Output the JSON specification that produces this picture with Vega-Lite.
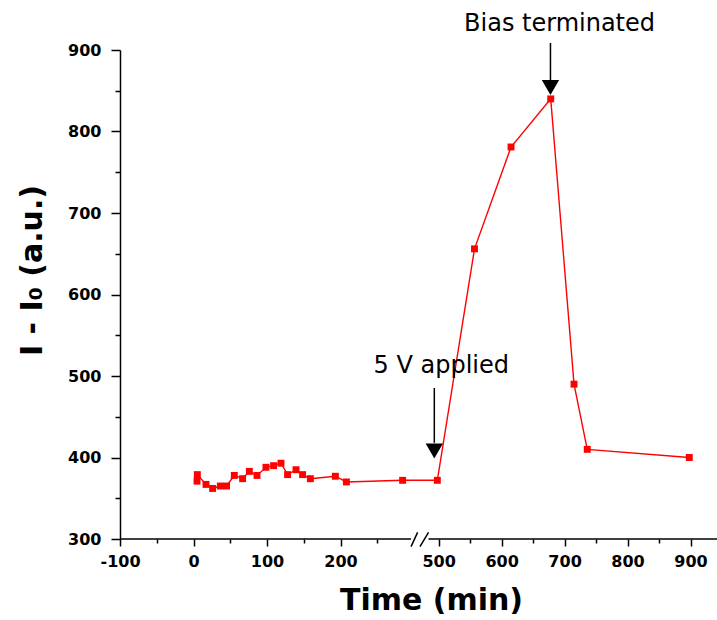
{
  "$schema": "https://vega.github.io/schema/vega-lite/v6.json",
  "width": 597,
  "height": 489,
  "autosize": {"type": "none"},
  "padding": {"left": 120, "top": 50, "right": 0, "bottom": 81},
  "background": "white",
  "config": {"view": {"stroke": null}},
  "datasets": {
    "series": [
      {"t": 4.8, "v": 371}, {"t": 5.2, "v": 379}, {"t": 17, "v": 367}, {"t": 26, "v": 362},
      {"t": 36.5, "v": 365}, {"t": 45, "v": 365}, {"t": 55.5, "v": 378}, {"t": 66.8, "v": 374},
      {"t": 76, "v": 383}, {"t": 86.4, "v": 378}, {"t": 98.6, "v": 388}, {"t": 109, "v": 390},
      {"t": 119, "v": 393}, {"t": 128, "v": 379}, {"t": 139.5, "v": 385}, {"t": 148.4, "v": 379},
      {"t": 159, "v": 374}, {"t": 193, "v": 377}, {"t": 208, "v": 370}, {"t": 284.5, "v": 372},
      {"t": 498, "v": 372}, {"t": 557, "v": 656}, {"t": 615, "v": 781}, {"t": 678, "v": 840},
      {"t": 715, "v": 490}, {"t": 736, "v": 410}, {"t": 898, "v": 400}
    ],
    "axisline": [
      {"t": -100, "t2": 296, "v": 300, "v2": 300},
      {"t": 484, "t2": 942, "v": 300, "v2": 300}
    ],
    "breakmarks": [
      {"t": 296, "t2": 354, "v": 290.6, "v2": 308.2},
      {"t": 390, "t2": 484, "v": 290.6, "v2": 308.2}
    ],
    "shafts": [
      {"t": 677.6, "t2": 677.6, "v": 908.6, "v2": 863},
      {"t": 493.2, "t2": 493.2, "v": 485.3, "v2": 418}
    ],
    "heads": [
      {"t": 677.6, "v": 854},
      {"t": 493.2, "v": 408}
    ],
    "notes": [
      {"t": 692, "v": 932, "label": "Bias terminated"},
      {"t": 504.3, "v": 512, "label": "5 V applied"}
    ]
  },
  "encoding": {
    "x": {
      "field": "t",
      "type": "quantitative",
      "scale": {"type": "linear", "domain": [-100, 300, 480, 942], "range": [0, 294, 306, 597], "zero": false, "nice": false},
      "axis": {
        "title": "Time (min)",
        "values": [-100, -50, 0, 50, 100, 150, 200, 250, 500, 550, 600, 650, 700, 750, 800, 850, 900],
        "labelExpr": "datum.value % 100 === 0 ? '' + datum.value : ''",
        "domain": false,
        "grid": false,
        "ticks": true,
        "tickColor": "black",
        "tickWidth": 1.5,
        "tickSize": {"condition": {"test": "datum.value % 100 !== 0", "value": 4}, "value": 7},
        "labelFont": "DejaVu Sans",
        "labelFontWeight": "bold",
        "labelFontSize": 16,
        "labelColor": "black",
        "labelPadding": 7,
        "labelFlush": false,
        "labelOverlap": false,
        "titleFont": "DejaVu Sans",
        "titleFontWeight": "bold",
        "titleFontSize": 30,
        "titleColor": "black",
        "titleX": 311,
        "titleY": 61,
        "titleAlign": "center",
        "titleBaseline": "middle"
      }
    },
    "y": {
      "field": "v",
      "type": "quantitative",
      "scale": {"domain": [300, 900], "zero": false, "nice": false},
      "axis": {
        "title": "I - I₀ (a.u.)",
        "values": [300, 350, 400, 450, 500, 550, 600, 650, 700, 750, 800, 850, 900],
        "labelExpr": "datum.value % 100 === 0 ? '' + datum.value : ''",
        "domain": true,
        "domainColor": "black",
        "domainWidth": 1.5,
        "grid": false,
        "tickColor": "black",
        "tickWidth": 1.5,
        "tickSize": {"condition": {"test": "datum.value % 100 !== 0", "value": 5}, "value": 9},
        "labelFont": "DejaVu Sans",
        "labelFontWeight": "bold",
        "labelFontSize": 16,
        "labelColor": "black",
        "labelPadding": 10,
        "labelFlush": false,
        "labelOverlap": false,
        "titleFont": "DejaVu Sans",
        "titleFontWeight": "bold",
        "titleFontSize": 30,
        "titleColor": "black",
        "titleX": -88,
        "titleY": 220,
        "titleAngle": -90,
        "titleAlign": "center",
        "titleBaseline": "middle"
      }
    }
  },
  "layer": [
    {
      "data": {"name": "axisline"},
      "mark": {"type": "rule", "color": "black", "strokeWidth": 1.5},
      "encoding": {"x2": {"field": "t2"}, "y2": {"field": "v2"}}
    },
    {
      "data": {"name": "breakmarks"},
      "mark": {"type": "rule", "color": "black", "strokeWidth": 1.5},
      "encoding": {"x2": {"field": "t2"}, "y2": {"field": "v2"}}
    },
    {
      "data": {"name": "series"},
      "mark": {"type": "line", "color": "#ff0000", "strokeWidth": 1.4}
    },
    {
      "data": {"name": "series"},
      "mark": {"type": "point", "shape": "square", "filled": true, "color": "#ff0000", "size": 48, "opacity": 1}
    },
    {
      "data": {"name": "shafts"},
      "mark": {"type": "rule", "color": "black", "strokeWidth": 1.5},
      "encoding": {"x2": {"field": "t2"}, "y2": {"field": "v2"}}
    },
    {
      "data": {"name": "heads"},
      "mark": {"type": "point", "shape": "triangle-down", "filled": true, "color": "black", "size": 300, "opacity": 1}
    },
    {
      "data": {"name": "notes"},
      "mark": {"type": "text", "font": "DejaVu Sans", "fontSize": 24, "color": "black", "align": "center", "baseline": "middle"},
      "encoding": {"text": {"field": "label"}}
    }
  ]
}
